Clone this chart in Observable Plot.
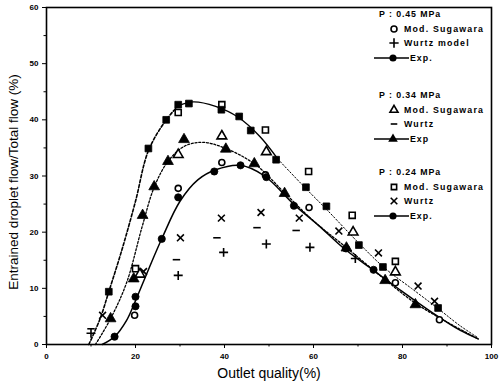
<!DOCTYPE html>
<html><head><meta charset="utf-8">
<script src="https://cdn.jsdelivr.net/npm/d3@7"></script>
<script src="https://cdn.jsdelivr.net/npm/@observablehq/plot@0.6"></script>
<style>
html,body{margin:0;padding:0;background:#fff;}
#chart{position:relative;width:500px;height:386px;}
</style></head>
<body><div id="chart"></div>
<script>
// ---- data ----
const xTicks = [0, 20, 40, 60, 80, 100];
const xMinor = [10, 30, 50, 70, 90];
const yTicks = [0, 10, 20, 30, 40, 50, 60];
const yMinor = [5, 15, 25, 35, 45, 55];

// P = 0.45 MPa
const p45Exp = [[15.3,1.4],[20,6.8],[20,8.5],[25.9,18.8],[29.6,26.2],[37.7,30.8],[43.6,31.9],[49.4,29.8],[55.6,24.7],[67.3,17.1],[73.5,13.3]];
const p45Mod = [[19.8,5.2],[29.6,27.8],[39.4,32.4],[49.2,30.2],[59,24.4],[78.4,11],[88.3,4.4]];
const p45Wurtz = [[10,2],[29.6,12.3],[39.8,16.4],[49.4,17.9],[59.2,17.3],[69.4,15.3]];
// P = 0.34 MPa
const p34Exp = [[14.4,4.6],[19.6,11.7],[21.6,23],[24.2,28.1],[27.3,32.6],[30.9,36.5],[40.3,34.8],[46.7,32.2],[53.5,26.9],[67.4,17.2],[76.1,11.4],[82.9,7.1]];
const p34Mod = [[21,12.5],[29.6,33.8],[39.4,37.1],[49.4,34.3],[68.9,20],[78.4,12.9]];
const p34Wurtz = [[10,2.8],[29.2,15.1],[38.3,19],[47.3,20.8],[56.1,20.3]];
// P = 0.24 MPa
const p24Exp = [[14,9.4],[22.9,34.9],[26.9,40],[29.6,42.7],[32,42.9],[39.3,41.8],[43.3,40.6],[45.9,38.1],[51.6,32.9],[58.3,28],[62.9,24.6],[70.2,17.7],[75.6,13.8],[88,6.5]];
const p24Mod = [[20,13.5],[29.6,41.3],[39.4,42.7],[49.2,38.2],[58.9,30.8],[68.7,23],[78.4,14.8]];
const p24Wurtz = [[12.6,5.2],[21.8,13],[30.1,19],[39.3,22.5],[48.2,23.5],[56.8,22.5],[65.7,20.2],[74.6,16.3],[83.5,10.4],[87.2,7.7]];

// fitted curves (traced)
const curve24Rise = [[9.5,0],[12,4.5],[14,9.4],[17,17],[20,25.5],[22.9,34.5],[26.9,40],[29.6,42.5]];
const curve24Top = [[29.6,42.5],[33,43.2],[38,42.4],[43,40.5],[48,37],[52,33]];
const curve24Fall = [[52,33],[58,28],[63,24],[70,18.2],[76,13.6],[82,10],[88,6.4],[93,3.3],[97,1.2]];
const curve34 = [[11,0],[14.4,4.6],[18,11],[21.5,21],[24.2,28],[27.3,32.6],[31,35.3],[35,36],[40,35],[47,32],[53.5,27],[60,22],[67,17.5],[76,11.6],[83,7.3],[90,4],[97,1]];
const curve45 = [[12.5,0],[15.3,1.4],[18,4.3],[20,7.8],[23,13.5],[26,19],[30,25.5],[34,29.3],[38,31.1],[43.5,31.9],[49,30],[55.5,25],[61,21.3],[67,17],[73.5,13.2],[80,9.4],[87,5.5],[93,2.5],[97,1]];

const legendTitles = ["P : 0.45 MPa", "P : 0.34 MPa", "P : 0.24 MPa"];
const legendMod = ["Mod. Sugawara", "Mod. Sugawara", "Mod. Sugawara"];
const legendWurtz = ["Wurtz model", "Wurtz", "Wurtz"];
const legendExp = ["Exp.", "Exp", "Exp."];

// ---- symbols ----
const dashSym = {draw(ctx, size){ const w = Math.sqrt(size) * 0.6; ctx.moveTo(-w, 0); ctx.lineTo(w, 0); }};
const toObj = a => a.map(([x, y]) => ({x, y}));

const dotsOpen = (data, symbol, r) => Plot.dot(toObj(data), {x: "x", y: "y", symbol, r, fill: "white", stroke: "black", strokeWidth: 1.6});
const dotsFill = (data, symbol, r) => Plot.dot(toObj(data), {x: "x", y: "y", symbol, r, fill: "black", stroke: "black", strokeWidth: 0.8});
const dotsStroke = (data, symbol, r) => Plot.dot(toObj(data), {x: "x", y: "y", symbol, r, fill: "none", stroke: "black", strokeWidth: 1.6});
const line = (data, opts) => Plot.line(toObj(data), {x: "x", y: "y", curve: "catmull-rom", stroke: "black", ...opts});

const fontTick = "Liberation Sans, Arial, sans-serif";

const svg = Plot.plot({
  width: 500, height: 386,
  marginLeft: 46, marginRight: 9, marginTop: 7, marginBottom: 42,
  x: {domain: [0, 100]},
  y: {domain: [0, 60]},
  style: {fontFamily: fontTick, fontSize: "8px", fontWeight: "bold", background: "white", color: "black"},
  marks: [
    Plot.frame({stroke: "black", strokeWidth: 1.6}),
    Plot.axisX({ticks: xTicks, tickSize: 4, tickPadding: 5, label: null, tickFormat: d => d, fontWeight: "bold"}),
    Plot.axisX({ticks: xMinor, tickSize: 2.5, text: null, label: null}),
    Plot.axisY({ticks: yTicks, tickSize: 4, tickPadding: 4, label: null, tickFormat: d => d}),
    Plot.axisY({ticks: yMinor, tickSize: 2.5, text: null, label: null}),
    Plot.text(["Outlet quality(%)"], {frameAnchor: "bottom", dy: 33, fontSize: 14, fontWeight: "normal", textAnchor: "middle", style: {letterSpacing: "0.4px"}}),
    Plot.text(["Entrained droplet flow/Total flow (%)"], {frameAnchor: "left", dx: -33, dy: 6, rotate: -90, fontSize: 13.5, fontWeight: "normal", textAnchor: "middle", style: {letterSpacing: "0.9px"}}),
    line(curve24Rise, {strokeWidth: 1.6, strokeDasharray: "3,2"}),
    line(curve24Top, {strokeWidth: 1.4}),
    line(curve24Fall, {strokeWidth: 1, strokeDasharray: "1.5,2"}),
    line(curve34, {strokeWidth: 1.3, strokeDasharray: "2,1.8"}),
    line(curve45, {strokeWidth: 1.5}),
    dotsStroke(p24Wurtz, "times", 3.2),
    dotsStroke(p34Wurtz, dashSym, 3.5),
    dotsStroke(p45Wurtz, "plus", 3),
    dotsOpen(p24Mod, "square", 3.4),
    dotsOpen(p34Mod, "triangle", 3.6),
    dotsOpen(p45Mod, "circle", 3),
    dotsFill(p24Exp, "square", 3.8),
    dotsFill(p34Exp, "triangle", 4),
    dotsFill(p45Exp, "circle", 3.6)
  ]
});
document.getElementById("chart").appendChild(svg);

// ---- legend inside the frame (top right) ----
const g = d3.select(svg).append("g").attr("font-family", fontTick).attr("font-weight", "bold").attr("font-size", 8.8).attr("fill", "black").attr("text-anchor", "start");
const modSyms = [d3.symbolCircle, d3.symbolTriangle, d3.symbolSquare];
const wurtzSyms = [d3.symbolPlus, dashSym, d3.symbolTimes];
const expSyms = [d3.symbolCircle, d3.symbolTriangle, d3.symbolCircle];
const blockTop = [14, 95, 172];
legendTitles.forEach((t, i) => {
  const y0 = blockTop[i];
  g.append("text").attr("text-anchor", "start").attr("x", 379).attr("y", y0).attr("dy", "0.35em").attr("letter-spacing", 0.9).text(t);
  // Mod. Sugawara
  g.append("path").attr("d", d3.symbol(modSyms[i], 28)()).attr("transform", `translate(394,${y0 + 15})`).attr("fill", "white").attr("stroke", "black").attr("stroke-width", 1.6);
  g.append("text").attr("text-anchor", "start").attr("x", 404).attr("y", y0 + 15).attr("dy", "0.35em").attr("letter-spacing", 1.2).text(legendMod[i]);
  // Wurtz
  g.append("path").attr("d", d3.symbol(wurtzSyms[i], 30)()).attr("transform", `translate(394,${y0 + 29})`).attr("fill", "none").attr("stroke", "black").attr("stroke-width", 1.6);
  g.append("text").attr("text-anchor", "start").attr("x", 404).attr("y", y0 + 29).attr("dy", "0.35em").attr("letter-spacing", 1.2).text(legendWurtz[i]);
  // Exp.
  g.append("line").attr("x1", 374).attr("x2", 409).attr("y1", y0 + 44).attr("y2", y0 + 44).attr("stroke", "black").attr("stroke-width", 1.5);
  g.append("path").attr("d", d3.symbol(expSyms[i], 40)()).attr("transform", `translate(393,${y0 + 44})`).attr("fill", "black");
  g.append("text").attr("text-anchor", "start").attr("x", 410).attr("y", y0 + 44).attr("dy", "0.35em").attr("letter-spacing", 1).text(legendExp[i]);
});
</script>
</body></html>
